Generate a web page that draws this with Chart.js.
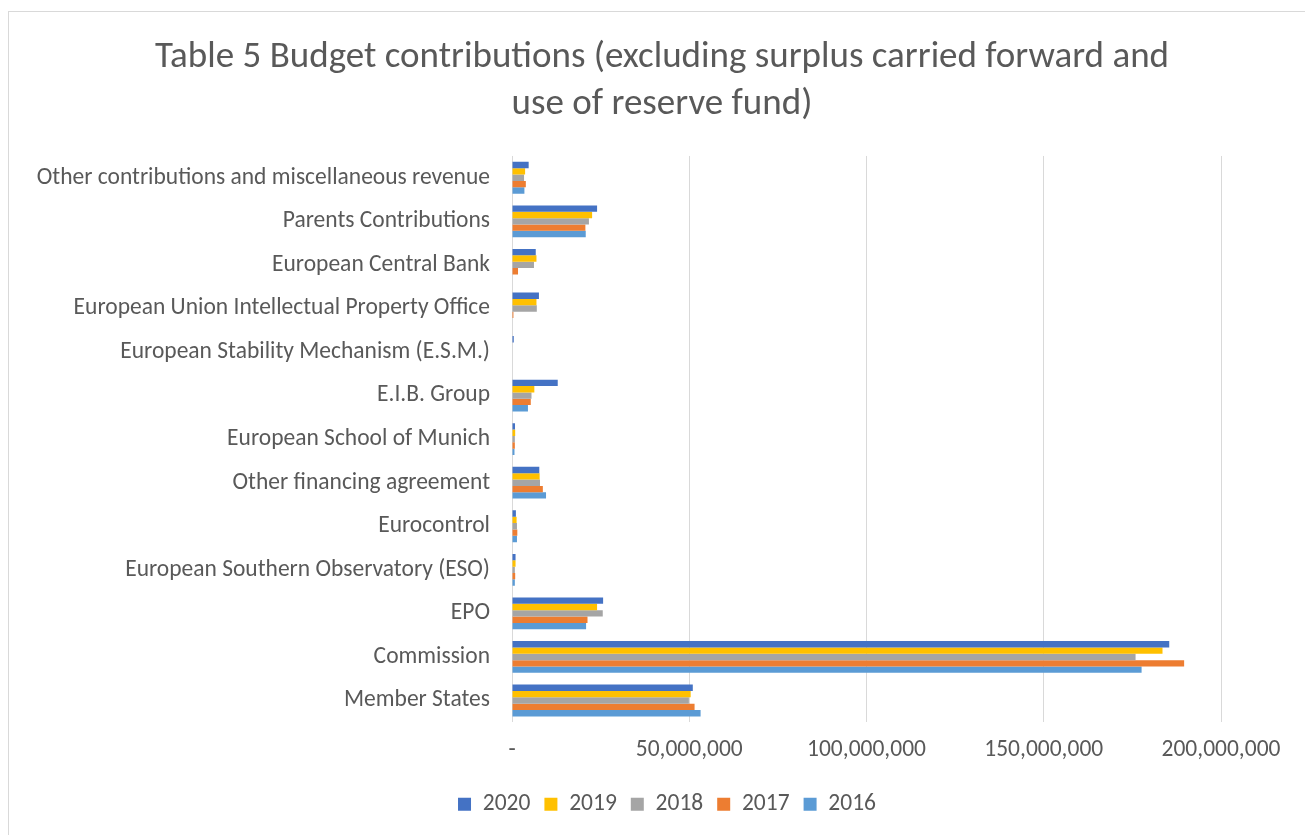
<!DOCTYPE html>
<html>
<head>
<meta charset="utf-8">
<script src="https://cdn.jsdelivr.net/npm/chart.js@4"></script>
<style>
  body { margin: 0; background: #fff; }
  #box {
    position: absolute; left: 8px; top: 11px;
    width: 1297px; height: 824px;
    border: 1px solid #d9d9d9; border-right: none; border-bottom: none;
    box-sizing: border-box;
  }
</style>
</head>
<body>
<div id="box"><canvas id="budgetChart"></canvas></div>
<script>
const categories = [
    'Other contributions and miscellaneous revenue',
    'Parents Contributions',
    'European Central Bank',
    'European Union Intellectual Property Office',
    'European Stability Mechanism (E.S.M.)',
    'E.I.B. Group',
    'European School of Munich',
    'Other financing agreement',
    'Eurocontrol',
    'European Southern Observatory (ESO)',
    'EPO',
    'Commission',
    'Member States'
];

const values2020 = [4700000, 24000000, 6700000, 7600000, 500000, 12900000, 850000, 7700000, 1100000, 1000000, 25700000, 185400000, 51000000];
const values2019 = [3700000, 22600000, 6900000, 6900000, 0, 6300000, 900000, 7800000, 1300000, 1000000, 24000000, 183500000, 50400000];
const values2018 = [3400000, 21700000, 6200000, 7000000, 0, 5500000, 800000, 7900000, 1400000, 800000, 25600000, 175900000, 49900000];
const values2017 = [3900000, 20700000, 1700000, 400000, 0, 5300000, 800000, 8700000, 1500000, 900000, 21300000, 189600000, 51500000];
const values2016 = [3500000, 20800000, 0, 0, 0, 4500000, 700000, 9600000, 1400000, 800000, 20900000, 177600000, 53200000];

const xTicks = [0, 50000000, 100000000, 150000000, 200000000];

const textColor = '#595959';
const fontFamily = 'Carlito, Calibri, "Liberation Sans", sans-serif';

// title and legend are centred on the whole chart in the original, not on the padded area
const shiftBoxes = {
    id: 'shiftBoxes',
    afterLayout: function(chart) {
        chart.titleBlock.left += 47;
        chart.titleBlock.right += 47;
        chart.legend.left += 52;
        chart.legend.right += 52;
    }
};

const budgetChart = new Chart(document.getElementById('budgetChart'), {
    type: 'bar',
    data: {
        labels: categories,
        datasets: [
            { label: '2020', data: values2020, backgroundColor: '#4472C4' },
            { label: '2019', data: values2019, backgroundColor: '#FFC000' },
            { label: '2018', data: values2018, backgroundColor: '#A5A5A5' },
            { label: '2017', data: values2017, backgroundColor: '#ED7D31' },
            { label: '2016', data: values2016, backgroundColor: '#5B9BD5' }
        ]
    },
    plugins: [shiftBoxes],
    options: {
        indexAxis: 'y',
        responsive: true,
        maintainAspectRatio: false,
        animation: false,
        categoryPercentage: 0.73,
        barPercentage: 1,
        layout: {
            padding: { left: 0, right: 84, top: 22, bottom: 9 }
        },
        plugins: {
            title: {
                display: true,
                text: ['Table 5 Budget contributions (excluding surplus carried forward and', 'use of reserve fund)'],
                color: textColor,
                font: { family: fontFamily, size: 37, weight: 'normal', lineHeight: 1.27 },
                padding: { top: 0, bottom: 28 }
            },
            legend: {
                position: 'bottom',
                labels: {
                    color: textColor,
                    boxWidth: 13,
                    boxHeight: 13,
                    padding: 14,
                    font: { family: fontFamily, size: 23.5 }
                }
            },
            tooltip: { enabled: false }
        },
        scales: {
            x: {
                min: 0,
                max: 200000000,
                afterBuildTicks: function(scale) {
                    scale.ticks = xTicks.map(v => ({ value: v }));
                },
                grid: { color: '#d9d9d9', drawTicks: false },
                border: { display: false },
                ticks: {
                    color: textColor,
                    padding: 14,
                    maxRotation: 0,
                    font: { family: fontFamily, size: 23.5 },
                    callback: function(value) {
                        return value === 0 ? '-' : value.toLocaleString('en-US');
                    }
                }
            },
            y: {
                afterFit: function(scale) { scale.width = 503; },
                grid: { display: false, drawTicks: false },
                border: { display: false },
                ticks: {
                    color: textColor,
                    padding: 22,
                    autoSkip: false,
                    font: { family: fontFamily, size: 23.5 }
                }
            }
        }
    }
});
</script>
</body>
</html>
